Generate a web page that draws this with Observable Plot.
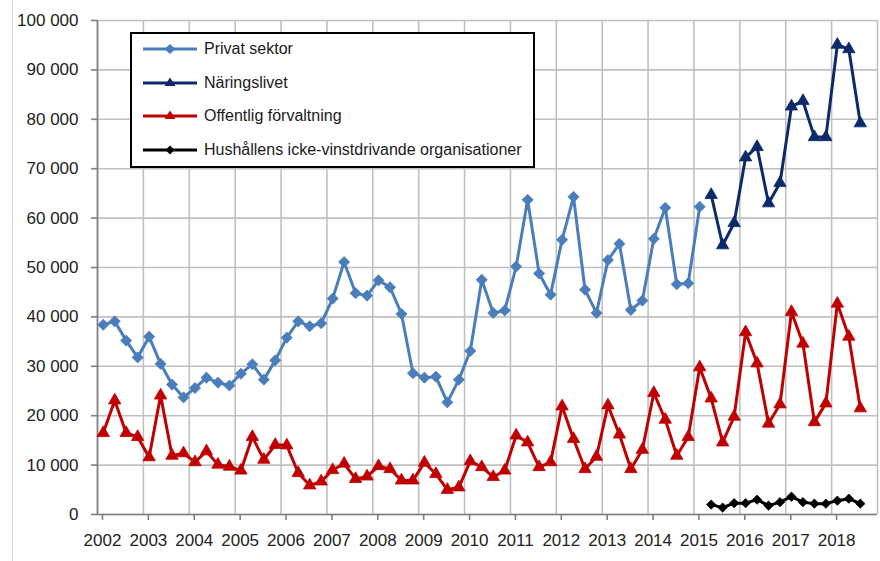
<!DOCTYPE html>
<html>
<head>
<meta charset="utf-8">
<script src="https://cdn.jsdelivr.net/npm/d3@7"></script>
<script src="https://cdn.jsdelivr.net/npm/@observablehq/plot@0.6"></script>
<style>
  body { margin: 0; background: #fff; }
  #wrap { position: relative; width: 880px; height: 561px; font-family: "Liberation Sans", Arial, sans-serif; }
  #edge { position: absolute; left: 12px; top: 0; width: 1px; height: 561px; background: #d4d4d4; }
  #legend { position: absolute; left: 130px; top: 32px; width: 401px; height: 132px; border: 2px solid #000; background: #fff; }
  .row { position: absolute; left: 11px; height: 20px; display: flex; align-items: center; font-size: 16px; color: #1a1a1a; }
  .row svg { margin-right: 6px; }
</style>
</head>
<body>
<div id="wrap"><div id="edge"></div></div>
<script>
// ---- data (quarterly values) ----
const years = [2002, 2003, 2004, 2005, 2006, 2007, 2008, 2009, 2010, 2011, 2012, 2013, 2014, 2015, 2016, 2017, 2018];
const yTicks = [0, 10000, 20000, 30000, 40000, 50000, 60000, 70000, 80000, 90000, 100000];

const seriesNames = ["Privat sektor", "Näringslivet", "Offentlig förvaltning", "Hushållens icke-vinstdrivande organisationer"];
const seriesColors = ["#4a7ebb", "#0c2a6a", "#c00000", "#000000"];

// Privat sektor: 2002K1 – 2015K1
const privatStart = "2002K1";
const privat = [
  38400, 39100, 35200, 31800,
  36000, 30500, 26300, 23700,
  25600, 27700, 26700, 26100,
  28500, 30400, 27300, 31200,
  35800, 39100, 38100, 38700,
  43700, 51100, 44800, 44300,
  47400, 46000, 40600, 28600,
  27700, 27900, 22700, 27300,
  33100, 47500, 40800, 41300,
  50200, 63700, 48800, 44500,
  55600, 64300, 45500, 40800,
  51500, 54800, 41400, 43300,
  55800, 62100, 46600, 46800,
  62300
];

// Näringslivet: 2015K2 – 2018K3
const naringStart = "2015K2";
const naring = [
  64700, 54500, 59000,
  72300, 74400, 63000, 67100,
  82600, 83700, 76400, 76400,
  95100, 94200, 79200
];

// Offentlig förvaltning: 2002K1 – 2018K3
const offentligStart = "2002K1";
const offentlig = [
  16500, 23100, 16500, 15700,
  11600, 24100, 11900, 12400,
  10600, 12800, 10100, 9700,
  8900, 15700, 11100, 14100,
  14000, 8400, 5900, 6700,
  9000, 10300, 7200, 7700,
  9800, 9200, 6900, 6900,
  10500, 8200, 5000, 5500,
  10800, 9600, 7600, 8900,
  16000, 14600, 9600, 10600,
  21900, 15300, 9200, 11700,
  22100, 16200, 9200, 13100,
  24600, 19200, 11900, 15700,
  29800, 23500, 14600, 19800,
  36900, 30600, 18400, 22300,
  41000, 34600, 18700, 22500,
  42700, 36000, 21500
];

// Hushållens icke-vinstdrivande organisationer: 2015K2 – 2018K3
const hushStart = "2015K2";
const hush = [
  2000, 1400, 2300,
  2300, 3000, 1800, 2500,
  3600, 2500, 2200, 2200,
  2800, 3200, 2200
];

// ---- build rows ----
function toRows(start, values, name) {
  const [y, q] = start.split("K").map(Number);
  return values.map((v, i) => {
    const k = (q - 1) + i;
    const yr = y + Math.floor(k / 4), qq = (k % 4) + 1;
    return { t: yr + (qq - 0.5) / 4, value: v, series: name };
  });
}
const rowsPrivat = toRows(privatStart, privat, seriesNames[0]);
const rowsNaring = toRows(naringStart, naring, seriesNames[1]);
const rowsOff = toRows(offentligStart, offentlig, seriesNames[2]);
const rowsHush = toRows(hushStart, hush, seriesNames[3]);

const fmt = d => d3.format(",")(d).replace(/,/g, " ");
const xTicks = years.concat([years[years.length - 1] + 1]);
const xFmt = d => years.includes(d) ? String(d) : "";

const chart = Plot.plot({
  width: 880,
  height: 561,
  marginLeft: 97,
  marginRight: 3,
  marginTop: 20,
  marginBottom: 47,
  style: { fontFamily: "'Liberation Sans', Arial, sans-serif", fontSize: "17px", color: "#222", background: "transparent", overflow: "visible" },
  x: { type: "linear", domain: [xTicks[0], xTicks[xTicks.length - 1]], label: null },
  y: { domain: [yTicks[0], yTicks[yTicks.length - 1]], label: null },
  marks: [
    Plot.gridX(xTicks, { stroke: "#c0c0c0", strokeOpacity: 1, strokeWidth: 1.6 }),
    Plot.gridY(yTicks, { stroke: "#c0c0c0", strokeOpacity: 1, strokeWidth: 1.6 }),
    Plot.ruleX([xTicks[0]], { stroke: "#7f7f7f", strokeWidth: 1.6 }),
    Plot.ruleY([0], { stroke: "#7f7f7f", strokeWidth: 1.6 }),
    Plot.axisY(yTicks, { tickSize: 6, tickPadding: 13, stroke: "#7f7f7f", strokeWidth: 1.6, fontSize: 17, tickFormat: fmt, label: null }),
    Plot.axisX(xTicks, { tickSize: 6, tickPadding: 13, stroke: "#7f7f7f", strokeWidth: 1.6, fontSize: 17, dx: 5, tickFormat: xFmt, label: null }),

    Plot.line(rowsOff, { x: "t", y: "value", stroke: seriesColors[2], strokeWidth: 3 }),
    Plot.dot(rowsOff, { x: "t", y: "value", symbol: "triangle", r: 4.6, fill: seriesColors[2], stroke: seriesColors[2], strokeWidth: 0.8 }),

    Plot.line(rowsPrivat, { x: "t", y: "value", stroke: seriesColors[0], strokeWidth: 3 }),
    Plot.dot(rowsPrivat, { x: "t", y: "value", symbol: "diamond2", r: 5, fill: seriesColors[0], stroke: seriesColors[0], strokeWidth: 0.8 }),

    Plot.line(rowsNaring, { x: "t", y: "value", stroke: seriesColors[1], strokeWidth: 3 }),
    Plot.dot(rowsNaring, { x: "t", y: "value", symbol: "triangle", r: 4.6, fill: seriesColors[1], stroke: seriesColors[1], strokeWidth: 0.8 }),

    Plot.line(rowsHush, { x: "t", y: "value", stroke: seriesColors[3], strokeWidth: 3 }),
    Plot.dot(rowsHush, { x: "t", y: "value", symbol: "diamond2", r: 4.2, fill: seriesColors[3], stroke: seriesColors[3], strokeWidth: 0.8 })
  ]
});
const wrap = document.getElementById("wrap");
chart.style.position = "absolute";
chart.style.left = "0";
chart.style.top = "0";
wrap.appendChild(chart);

// ---- legend ----
const legend = document.createElement("div");
legend.id = "legend";
const symbols = ["diamond", "triangle", "triangle", "diamond"];
const rowTops = [5, 39, 72, 106];
seriesNames.forEach((name, i) => {
  const row = document.createElement("div");
  row.className = "row";
  row.style.top = rowTops[i] + "px";
  const c = seriesColors[i];
  const marker = symbols[i] === "diamond"
    ? `<path d="M27,${i === 3 ? 5.5 : 5} L${i === 3 ? 31.5 : 32.5},10 L27,${i === 3 ? 14.5 : 15} L${i === 3 ? 22.5 : 21.5},10 Z" fill="${c}"/>`
    : `<path d="M27,4.5 L32.5,13 L21.5,13 Z" fill="${c}"/>`;
  row.innerHTML = `<svg width="55" height="20"><line x1="0" y1="10" x2="54" y2="10" stroke="${c}" stroke-width="3"/>${marker}</svg><span>${name}</span>`;
  legend.appendChild(row);
});
wrap.appendChild(legend);
</script>
</body>
</html>
